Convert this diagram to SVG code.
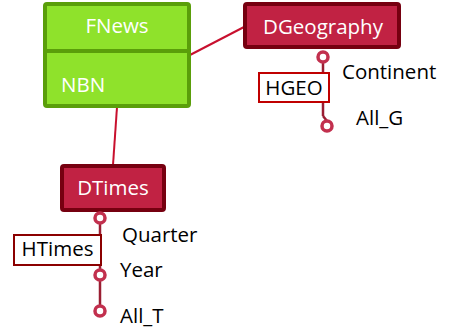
<svg xmlns="http://www.w3.org/2000/svg" width="452" height="332" viewBox="0 0 452 332">
<style>
text{font-family:"Open Sans","Liberation Sans",sans-serif;font-size:20.5px}
.w{fill:#ffffff}
.k{fill:#000000}
.fact{fill:#8FE22B;stroke:#5A9E0A;stroke-width:4}
.dim{fill:#C12243;stroke:#760010;stroke-width:4}
.conn{stroke:#C8102E;stroke-width:2;fill:none}
.hl{stroke:#9A1E32;stroke-width:2.5;fill:none}
.lv{fill:#ffffff;stroke:#C2304E;stroke-width:3.5}
</style>
<rect width="452" height="332" fill="#ffffff"/>
<g id="connectors">
<line class="conn" x1="190" y1="55" x2="244" y2="27"/>
<line class="conn" x1="117" y1="107" x2="113" y2="165"/>
</g>
<g id="FNews">
<rect class="fact" x="45" y="4" width="144" height="102" rx="2"/>
<line x1="45" y1="51" x2="189" y2="51" stroke="#5A9E0A" stroke-width="4"/>
<text class="w" x="117" y="33" text-anchor="middle">FNews</text>
<text class="w" x="61" y="92">NBN</text>
</g>
<g id="DGeography">
<rect class="dim" x="245" y="4" width="154" height="43" rx="2"/>
<text class="w" x="323" y="34" text-anchor="middle">DGeography</text>
</g>
<g id="HGEO">
<line class="hl" x1="323" y1="62" x2="323" y2="116"/>
<line class="hl" x1="323" y1="116" x2="327" y2="121"/>
<rect x="259" y="73" width="70" height="29" fill="#ffffff" stroke="#C00000" stroke-width="2"/>
<text class="k" x="294" y="95" text-anchor="middle">HGEO</text>
<circle class="lv" cx="323" cy="57" r="5"/>
<circle class="lv" cx="327" cy="126" r="5"/>
<text class="k" x="342" y="79">Continent</text>
<text class="k" x="356" y="125">All_G</text>
</g>
<g id="DTimes">
<rect class="dim" x="62" y="166" width="102" height="44" rx="2"/>
<text class="w" x="113" y="195" text-anchor="middle">DTimes</text>
</g>
<g id="HTimes">
<line class="hl" x1="100" y1="223" x2="100" y2="306"/>
<rect x="14" y="235" width="87" height="30" fill="#ffffff" stroke="#8B0000" stroke-width="2"/>
<text class="k" x="57.5" y="256" text-anchor="middle">HTimes</text>
<circle class="lv" cx="100" cy="218" r="5"/>
<circle class="lv" cx="100" cy="275" r="5"/>
<circle class="lv" cx="100" cy="311" r="5"/>
<text class="k" x="122" y="242">Quarter</text>
<text class="k" x="120" y="277">Year</text>
<text class="k" x="120" y="323">All_T</text>
</g>
</svg>
